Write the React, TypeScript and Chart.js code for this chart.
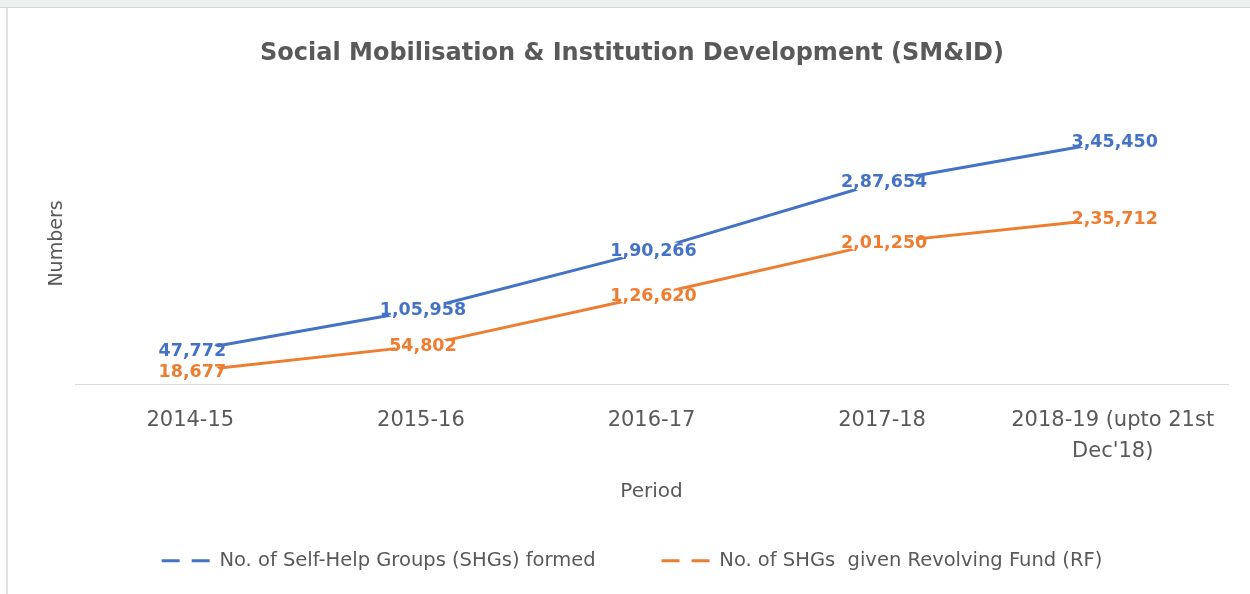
import React, { useEffect, useRef } from 'react';
import { Chart, registerables } from 'chart.js';

Chart.register(...registerables);

// ---- data ----
const periods: (string | string[])[] = ['2014-15', '2015-16', '2016-17', '2017-18', ['2018-19 (upto 21st', "Dec'18)"]];
const shgFormed = [47772, 105958, 190266, 287654, 345450];
const shgRevolvingFund = [18677, 54802, 126620, 201250, 235712];
const seriesNames = ['No. of Self-Help Groups (SHGs) formed', 'No. of SHGs  given Revolving Fund (RF)'];
const chartTitle = 'Social Mobilisation & Institution Development (SM&ID)';
const xTitle = 'Period';
const yTitle = 'Numbers';

const TEXT = '#595959';
const BLUE = '#4472C4';
const ORANGE = '#ED7D31';
const FONT = "'DejaVu Sans'";

function formatIndian(n: number): string {
  const s = String(Math.round(n));
  if (s.length <= 3) return s;
  const last3 = s.slice(-3);
  let rest = s.slice(0, -3);
  const parts: string[] = [];
  while (rest.length > 2) {
    parts.unshift(rest.slice(-2));
    rest = rest.slice(0, -2);
  }
  if (rest.length) parts.unshift(rest);
  return parts.join(',') + ',' + last3;
}

const dataLabelPlugin = {
  id: 'dataLabels',
  afterDatasetsDraw(chart: any) {
    const ctx = chart.ctx as CanvasRenderingContext2D;
    ctx.save();
    ctx.font = `bold 17.5px ${FONT}`;
    ctx.textAlign = 'center';
    ctx.textBaseline = 'middle';
    chart.data.datasets.forEach((ds: any, i: number) => {
      const meta = chart.getDatasetMeta(i);
      meta.data.forEach((pt: any, j: number) => {
        const txt = formatIndian(ds.data[j]);
        const w = ctx.measureText(txt).width;
        const x = pt.x + 2;
        const y = pt.y + 1;
        ctx.fillStyle = '#ffffff';
        ctx.beginPath();
        ctx.ellipse(x, y, Math.max(w / 2 - 6, 8), 11, 0, 0, Math.PI * 2);
        ctx.fill();
        ctx.fillStyle = ds.borderColor;
        ctx.fillText(txt, x, y);
      });
    });
    ctx.restore();
  },
};

export default function App() {
  const canvasRef = useRef<HTMLCanvasElement | null>(null);

  useEffect(() => {
    if (!canvasRef.current) return;
    Chart.defaults.font.family = FONT;
    const chart = new Chart(canvasRef.current, {
      type: 'line',
      data: {
        labels: periods as any,
        datasets: [
          {
            label: seriesNames[0],
            data: shgFormed,
            borderColor: BLUE,
            backgroundColor: BLUE,
            borderWidth: 3,
            pointRadius: 0,
            tension: 0,
            fill: false,
          },
          {
            label: seriesNames[1],
            data: shgRevolvingFund,
            borderColor: ORANGE,
            backgroundColor: ORANGE,
            borderWidth: 3,
            pointRadius: 0,
            tension: 0,
            fill: false,
          },
        ],
      },
      options: {
        responsive: false,
        animation: false,
        events: [],
        layout: { padding: { top: 0, left: 36, right: 22, bottom: 13.5 } },
        plugins: {
          title: {
            display: true,
            text: chartTitle,
            color: TEXT,
            font: { family: FONT, size: 24, weight: 'bold', lineHeight: 1.2 },
            padding: { top: 39.6, bottom: 34.1 },
          },
          legend: {
            display: true,
            position: 'bottom',
            labels: {
              color: TEXT,
              font: { family: FONT, size: 19.5 },
              padding: 66,
              usePointStyle: true,
              pointStyle: 'line',
              pointStyleWidth: 48,
              generateLabels: (c: any) =>
                (Chart.defaults.plugins.legend.labels.generateLabels as any)(c).map((l: any) => ({
                  ...l,
                  lineDash: [18, 12],
                  lineWidth: 3,
                })),
            },
          },
          tooltip: { enabled: false },
        },
        scales: {
          x: {
            type: 'category',
            offset: true,
            grid: { display: false, drawTicks: false },
            border: { display: true, color: '#d9d9d9', width: 1 },
            ticks: {
              color: TEXT,
              font: { family: FONT, size: 21, lineHeight: 1.476 },
              padding: 20.5,
              maxRotation: 0,
              minRotation: 0,
              autoSkip: false,
            },
            title: {
              display: true,
              text: xTitle,
              color: TEXT,
              font: { family: FONT, size: 20, lineHeight: 1.2 },
              padding: { top: -8, bottom: -18.5 },
            },
          },
          y: {
            min: 0,
            max: 400000,
            grid: { display: false, drawTicks: false },
            border: { display: false },
            ticks: { display: false },
            title: {
              display: true,
              text: yTitle,
              color: TEXT,
              font: { family: FONT, size: 19, lineHeight: 1.2 },
              padding: { top: 9.6, bottom: 6.6 },
            },
          },
        },
      } as any,
      plugins: [dataLabelPlugin],
    });
    return () => chart.destroy();
  }, []);

  return (
    <div style={{ position: 'fixed', left: 0, top: 0, width: 1250, height: 594, background: '#ffffff', overflow: 'hidden' }}>
      <div style={{ position: 'absolute', left: 0, top: 0, width: 1250, height: 7, background: '#eef0ef', borderBottom: '1px solid #d6d6d6' }} />
      <div style={{ position: 'absolute', left: 6, top: 8, width: 2, height: 586, background: '#e2e2e2' }} />
      <canvas ref={canvasRef} width={1250} height={594} style={{ position: 'absolute', left: 0, top: 0 }} />
    </div>
  );
}
